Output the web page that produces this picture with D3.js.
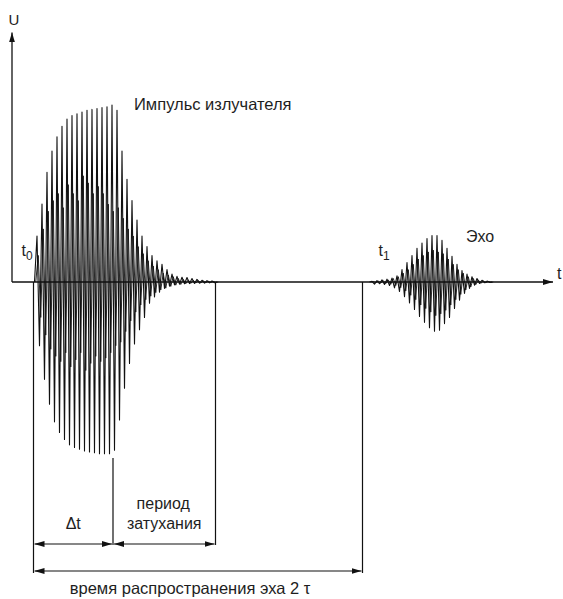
<!DOCTYPE html>
<html><head><meta charset="utf-8">
<script src="https://cdn.jsdelivr.net/npm/d3@7"></script>
<style>
html,body{margin:0;padding:0;background:#fff;}
svg{display:block;}
text{font-family:"Liberation Sans",Arial,sans-serif;fill:#1e1e1e;}
</style>
</head><body>
<svg id="chart" width="563" height="599"></svg>
<script>
// ---- data (time in arbitrary units, amplitude U relative) ----
const period = 1.0;
const pulseStart = 5.0;
const pulsePeaks = [0.26,0.44,0.62,0.74,0.82,0.88,0.92,0.94,0.95,0.96,0.97,0.975,0.98,0.985,0.99,1.0,
  0.97,0.74,0.58,0.46,0.35,0.26,0.2,0.15,0.12,0.1,0.07,0.045,0.032,0.027,0.025,0.02,0.015,0.01,0.008,0.006];
const pulseTroughs = [0.36,0.55,0.69,0.79,0.85,0.89,0.92,0.935,0.945,0.955,0.96,0.965,0.97,0.97,0.97,0.95,
  0.78,0.6,0.46,0.35,0.27,0.2,0.12,0.085,0.058,0.036,0.024,0.016,0.012,0.01,0.009,0.008,0.007,0.006,0.005,0.004];
const pulseInnerPeaks = [0.15,0.3,0.4,0.46,0.5,0.42,0.55,0.5,0.46,0.6,0.56,0.5,0.54,0.5,0.44,0.4,
  0.42,0.36,0.3,0.26,0.2,0.16,0.12,0.09,0.07,0.05,0.04,0.03,0.02,0.015,0.012,0.01,0.008,0.006,0.004,0.003];
const pulseInnerTroughs = [0.2,0.3,0.38,0.42,0.45,0.4,0.48,0.44,0.4,0.5,0.46,0.42,0.45,0.43,0.4,0.36,
  0.34,0.28,0.22,0.17,0.13,0.1,0.08,0.06,0.045,0.035,0.025,0.018,0.014,0.01,0.008,0.006,0.005,0.004,0.003,0.002];

const echoStart = 72.0;
const echoPeaks = [0.004,0.008,0.012,0.016,0.022,0.035,0.07,0.11,0.15,0.19,0.22,0.245,0.262,0.262,0.235,0.19,
  0.145,0.1,0.065,0.045,0.03,0.02,0.01,0.005];
const echoTroughs = [0.012,0.01,0.014,0.02,0.033,0.054,0.083,0.118,0.155,0.195,0.228,0.258,0.278,0.272,0.235,0.2,
  0.15,0.103,0.065,0.036,0.018,0.008,0.004,0.002];
const echoInnerPeaks = [0.003,0.005,0.008,0.012,0.02,0.03,0.05,0.07,0.1,0.13,0.15,0.17,0.18,0.17,0.16,0.13,
  0.1,0.07,0.05,0.03,0.02,0.012,0.006,0.003];
const echoInnerTroughs = [0.004,0.006,0.009,0.013,0.02,0.032,0.05,0.075,0.1,0.13,0.15,0.17,0.19,0.18,0.16,0.13,
  0.1,0.07,0.045,0.028,0.015,0.008,0.004,0.002];

const markerTimes = [4.3, 20.2, 40.7, 70.1];   // t0, end of Δt, end of decay, t1
const axisLabels = ["U", "t"];
const waveLabels = ["Импульс излучателя", "Эхо"];
const timeLabels = ["t", "0", "t", "1"];
const dimLabels = ["Δt", "период", "затухания", "время распространения эха 2 τ"];

// ---- scales ----
const svg = d3.select("#chart");
const x = d3.scaleLinear().domain([0, 108.2]).range([12, 553]);
const y = d3.scaleLinear().domain([-1, 1]).range([459, 105]);
const uMax = 1.41;

// arrow heads
const defs = svg.append("defs");
defs.append("marker").attr("id","ah").attr("viewBox","0 0 10 6")
  .attr("refX",10).attr("refY",3).attr("markerWidth",10).attr("markerHeight",6)
  .attr("markerUnits","userSpaceOnUse").attr("orient","auto-start-reverse")
  .append("path").attr("d","M0,0 L10,3 L0,6 Z").attr("fill","#111");

// ---- waveform traces ----
function trace(start, peaks, troughs, offset) {
  const pts = [[start + offset - period / 2, 0]];
  peaks.forEach((p, i) => {
    pts.push([start + offset + i * period, p]);
    pts.push([start + offset + i * period + period / 2, -troughs[i]]);
  });
  pts.push([start + offset + peaks.length * period, 0]);
  return pts;
}
const line = d3.line().x(d => x(d[0])).y(d => y(d[1])).curve(d3.curveLinear);
const traces = [
  trace(pulseStart, pulsePeaks, pulseTroughs, 0),
  trace(pulseStart, pulseInnerPeaks, pulseInnerTroughs, period / 4),
  trace(echoStart, echoPeaks, echoTroughs, 0),
  trace(echoStart, echoInnerPeaks, echoInnerTroughs, period / 4)
];
svg.append("g").selectAll("path").data(traces).join("path")
  .attr("d", line).attr("fill","none").attr("stroke","#111")
  .attr("stroke-width",(d,i)=> i % 2 ? 0.9 : 1.1).attr("stroke-linejoin","round");

// ---- axes ----
svg.append("line").attr("x1", x(0)).attr("x2", x.range()[1]).attr("y1", y(0)).attr("y2", y(0))
  .attr("stroke","#111").attr("stroke-width",1.3).attr("marker-end","url(#ah)");
svg.append("line").attr("x1", x(0)).attr("x2", x(0)).attr("y1", y(0)).attr("y2", y(uMax))
  .attr("stroke","#111").attr("stroke-width",1.3).attr("marker-end","url(#ah)");

svg.append("text").attr("x", x(0) + 2).attr("y", 25).attr("text-anchor","middle")
  .attr("font-size",15).text(axisLabels[0]);
svg.append("text").attr("x", x.range()[1] + 4).attr("y", y(0) - 3)
  .attr("font-size",16).text(axisLabels[1]);

// ---- wave labels ----
svg.append("text").attr("x", 134).attr("y", 110).attr("font-size",16.5).text(waveLabels[0]);
svg.append("text").attr("x", 466).attr("y", 242).attr("font-size",16).text(waveLabels[1]);

const t0 = svg.append("text").attr("x", x(markerTimes[0]) - 12).attr("y", 256).attr("font-size",16);
t0.append("tspan").text(timeLabels[0]);
t0.append("tspan").attr("font-size",12).attr("dy",4).text(timeLabels[1]);
const t1 = svg.append("text").attr("x", x(markerTimes[3]) + 16).attr("y", 256).attr("font-size",16);
t1.append("tspan").text(timeLabels[2]);
t1.append("tspan").attr("font-size",12).attr("dy",4).text(timeLabels[3]);

// ---- dimension lines ----
const dimY1 = 544, dimY2 = 571;
const vlines = [
  [markerTimes[0], y(0), dimY2 + 2],
  [markerTimes[1], 458, dimY1 + 1],
  [markerTimes[2], y(0), dimY1 + 1],
  [markerTimes[3], y(0), dimY2 + 2]
];
svg.append("g").selectAll("line").data(vlines).join("line")
  .attr("x1", d => x(d[0])).attr("x2", d => x(d[0]))
  .attr("y1", d => d[1]).attr("y2", d => d[2])
  .attr("stroke","#111").attr("stroke-width",1.2);

const arrows = [
  [markerTimes[0], markerTimes[1], dimY1],
  [markerTimes[1], markerTimes[2], dimY1],
  [markerTimes[0], markerTimes[3], dimY2]
];
svg.append("g").selectAll("line").data(arrows).join("line")
  .attr("x1", d => x(d[0]) + 1).attr("x2", d => x(d[1]) - 1)
  .attr("y1", d => d[2]).attr("y2", d => d[2])
  .attr("stroke","#111").attr("stroke-width",1.2)
  .attr("marker-start","url(#ah)").attr("marker-end","url(#ah)");

svg.append("text").attr("x", x((markerTimes[0] + markerTimes[1]) / 2)).attr("y", 529)
  .attr("text-anchor","middle").attr("font-size",16).text(dimLabels[0]);
svg.append("text").attr("x", x((markerTimes[1] + markerTimes[2]) / 2) - 1).attr("y", 509)
  .attr("text-anchor","middle").attr("font-size",16).text(dimLabels[1]);
svg.append("text").attr("x", x((markerTimes[1] + markerTimes[2]) / 2)).attr("y", 529)
  .attr("text-anchor","middle").attr("font-size",16).text(dimLabels[2]);
svg.append("text").attr("x", 190).attr("y", 594)
  .attr("text-anchor","middle").attr("font-size",16.5).text(dimLabels[3]);
</script>
</body></html>
